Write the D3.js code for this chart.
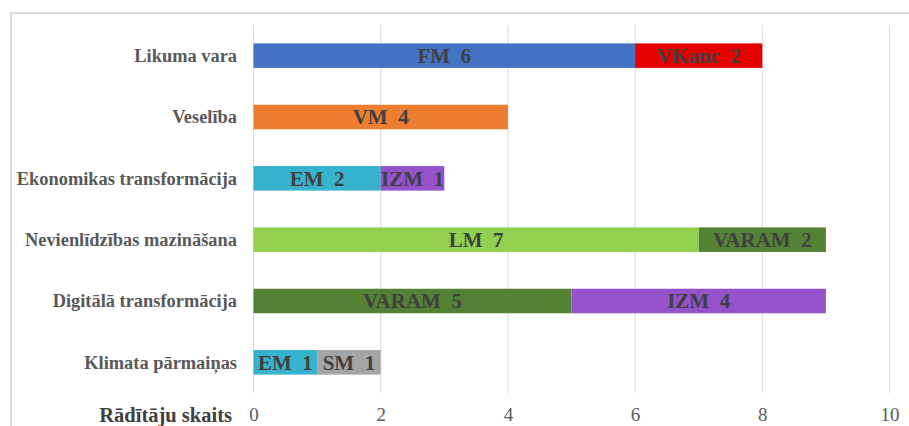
<!DOCTYPE html>
<html><head><meta charset="utf-8">
<script src="https://cdn.jsdelivr.net/npm/d3@7"></script>
<style>
html,body{margin:0;padding:0;background:#fff;}
svg{display:block;}
</style></head>
<body>
<script>
const categories = ["Likuma vara","Veselība","Ekonomikas transformācija","Nevienlīdzības mazināšana","Digitālā transformācija","Klimata pārmaiņas"];
const segmentNames = [["FM","VKanc"],["VM"],["EM","IZM"],["LM","VARAM"],["VARAM","IZM"],["EM","SM"]];
const segmentValues = [[6,2],[4],[2,1],[7,2],[5,4],[1,1]];
const xTicks = [0,2,4,6,8,10];
const axisTitle = "Rādītāju skaits";
const ministryColors = {FM:"#4472C4",VKanc:"#E50000",VM:"#ED7D31",EM:"#38B3CD",IZM:"#9552CB",LM:"#92D050",VARAM:"#548235",SM:"#A5A5A5"};

const W=909,H=426;
const svg=d3.select("body").append("svg").attr("width",W).attr("height",H);
const font="'Liberation Serif','Times New Roman',serif";

// frame
svg.append("path").attr("d",`M11,${H} L11,13 L${W},13`).attr("fill","none").attr("stroke","#D9D9D9").attr("stroke-width",2);

const x=d3.scaleLinear().domain([0,10]).range([253.5,889.5]);
const y=d3.scaleBand().domain(categories).range([25,393]).paddingInner(0.6).paddingOuter(0.3);

// gridlines
svg.append("g").selectAll("line").data(xTicks).join("line")
 .attr("x1",d=>x(d)).attr("x2",d=>x(d)).attr("y1",25).attr("y2",393)
 .attr("stroke","#D9D9D9").attr("stroke-width",1);

// segments
const segs=[];
categories.forEach((c,i)=>{
  let acc=0;
  segmentNames[i].forEach((n,j)=>{
    const v=segmentValues[i][j];
    segs.push({cat:c,name:n,v:v,x0:acc,x1:acc+v});
    acc+=v;
  });
});
const g=svg.append("g");
g.selectAll("rect").data(segs).join("rect")
 .attr("x",d=>x(d.x0)).attr("width",d=>x(d.x1)-x(d.x0))
 .attr("y",d=>y(d.cat)).attr("height",y.bandwidth())
 .attr("fill",d=>ministryColors[d.name]);
g.selectAll("text").data(segs).join("text")
 .attr("x",d=>(x(d.x0)+x(d.x1))/2).attr("y",d=>y(d.cat)+y.bandwidth()/2)
 .attr("dy","0.35em").attr("text-anchor","middle")
 .attr("font-family",font).attr("font-weight","bold").attr("font-size",21)
 .attr("fill","#404040")
 .text(d=>d.name+"\u00a0\u00a0"+d.v);

// category labels
const yAxis=svg.append("g").attr("transform","translate(237,0)")
 .call(d3.axisLeft(y).tickSize(0).tickPadding(0));
yAxis.select(".domain").remove();
yAxis.selectAll("text").attr("font-family",font).attr("font-weight","bold").attr("font-size",18.4).attr("fill","#595959").attr("dy","0.35em");

// x axis
const xAxis=svg.append("g").attr("transform","translate(0,393)")
 .call(d3.axisBottom(x).tickValues(xTicks).tickSize(0).tickPadding(0));
xAxis.select(".domain").remove();
xAxis.selectAll("text").attr("font-family",font).attr("font-size",19).attr("fill","#595959").attr("y",28).attr("dy",0);

svg.append("text").attr("x",232).attr("y",421.5).attr("text-anchor","end")
 .attr("font-family",font).attr("font-weight","bold").attr("font-size",20.5).attr("fill","#404040")
 .text(axisTitle);
</script>
</body></html>
